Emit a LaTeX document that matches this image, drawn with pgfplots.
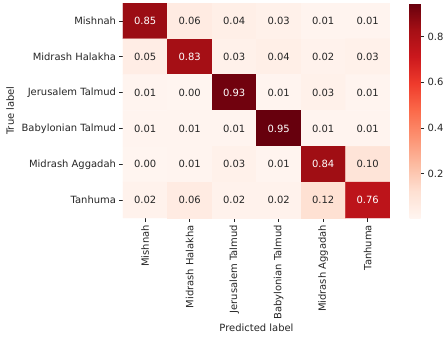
\documentclass[border=0pt]{standalone}
\usepackage{pgfplots}
\pgfplotsset{compat=1.18}
\usepackage{pgfplotstable}
\usepackage{fontspec}
\setmainfont{DejaVu Sans}
\definecolor{txt}{RGB}{38,38,38}
\pgfplotstableread{
x y v
0 0 0.85
1 0 0.06
2 0 0.04
3 0 0.03
4 0 0.01
5 0 0.01
0 1 0.05
1 1 0.83
2 1 0.03
3 1 0.04
4 1 0.02
5 1 0.03
0 2 0.01
1 2 0.00
2 2 0.93
3 2 0.01
4 2 0.03
5 2 0.01
0 3 0.01
1 3 0.01
2 3 0.01
3 3 0.95
4 3 0.01
5 3 0.01
0 4 0.00
1 4 0.01
2 4 0.03
3 4 0.01
4 4 0.84
5 4 0.10
0 5 0.02
1 5 0.06
2 5 0.02
3 5 0.02
4 5 0.12
5 5 0.76
}\cm
\begin{document}
\begin{tikzpicture}
\begin{axis}[
  at={(0,0)}, anchor=south west,
  scale only axis, width=267bp, height=215bp,
  font=\fontsize{10}{12}\selectfont,
  /pgf/number format/assume math mode=true,
  colormap={reds}{rgb255=(255,245,240) rgb255=(254,224,210) rgb255=(252,187,161) rgb255=(252,146,114) rgb255=(251,106,74) rgb255=(239,59,44) rgb255=(203,24,29) rgb255=(165,15,21) rgb255=(103,0,13)},
  point meta min=0.005, point meta max=0.948,
  xmin=-0.5, xmax=5.5, ymin=-0.5, ymax=5.5,
  y dir=reverse,
  axis line style={draw=none},
  tick align=outside, major tick length=3.5bp,
  tick style={color=txt, line width=0.8pt},
  ticklabel style={color=txt, font=\fontsize{10}{12}\selectfont},
  xtick={0,...,5}, ytick={0,...,5},
  xticklabels={Mishnah,Midrash Halakha,Jerusalem Talmud,Babylonian Talmud,Midrash Aggadah,Tanhuma},
  yticklabels={Mishnah,Midrash Halakha,Jerusalem Talmud,Babylonian Talmud,Midrash Aggadah,Tanhuma},
  xticklabel style={rotate=90, anchor=east},
  xtick pos=bottom, ytick pos=left,
  xlabel={Predicted label}, ylabel={True label},
  xlabel style={at={(axis description cs:0.5,-0.512)}, anchor=center, color=txt},
  ylabel style={at={(axis description cs:-0.423,0.5)}, anchor=center, color=txt},
  colorbar right,
  colorbar style={
    at={(parent axis.north east)}, anchor=north west, xshift=11bp,
    width=11bp, height=215bp, scale only axis,
    axis line style={draw=none},
    ytick={0.2,0.4,0.6,0.8},
    yticklabel style={color=txt, font=\fontsize{10}{12}\selectfont, /pgf/number format/assume math mode=true, /pgf/number format/fixed, /pgf/number format/precision=1},
    tick align=outside, major tick length=3.5bp,
    tick style={color=txt, line width=0.8pt},
    yticklabel pos=right, ytick pos=right,
  },
]
\addplot[matrix plot*, mesh/cols=6, point meta=explicit, draw=none] table[x=x, y=y, meta=v] {\cm};
\addplot[draw=none, mark=none, point meta=explicit,
  nodes near coords={\ifdim\pgfplotspointmetatransformed pt>500pt\color{white}\else\color{txt}\fi\pgfmathprintnumber[fixed,fixed zerofill,precision=2,assume math mode=true]{\pgfplotspointmeta}},
  nodes near coords align=center,
  every node near coord/.append style={font=\fontsize{10}{12}\selectfont}
] table[x=x, y=y, meta=v] {\cm};
\end{axis}
\pgfresetboundingbox
\useasboundingbox (-123bp,-122bp) rectangle (323bp,218bp);
\end{tikzpicture}
\end{document}
